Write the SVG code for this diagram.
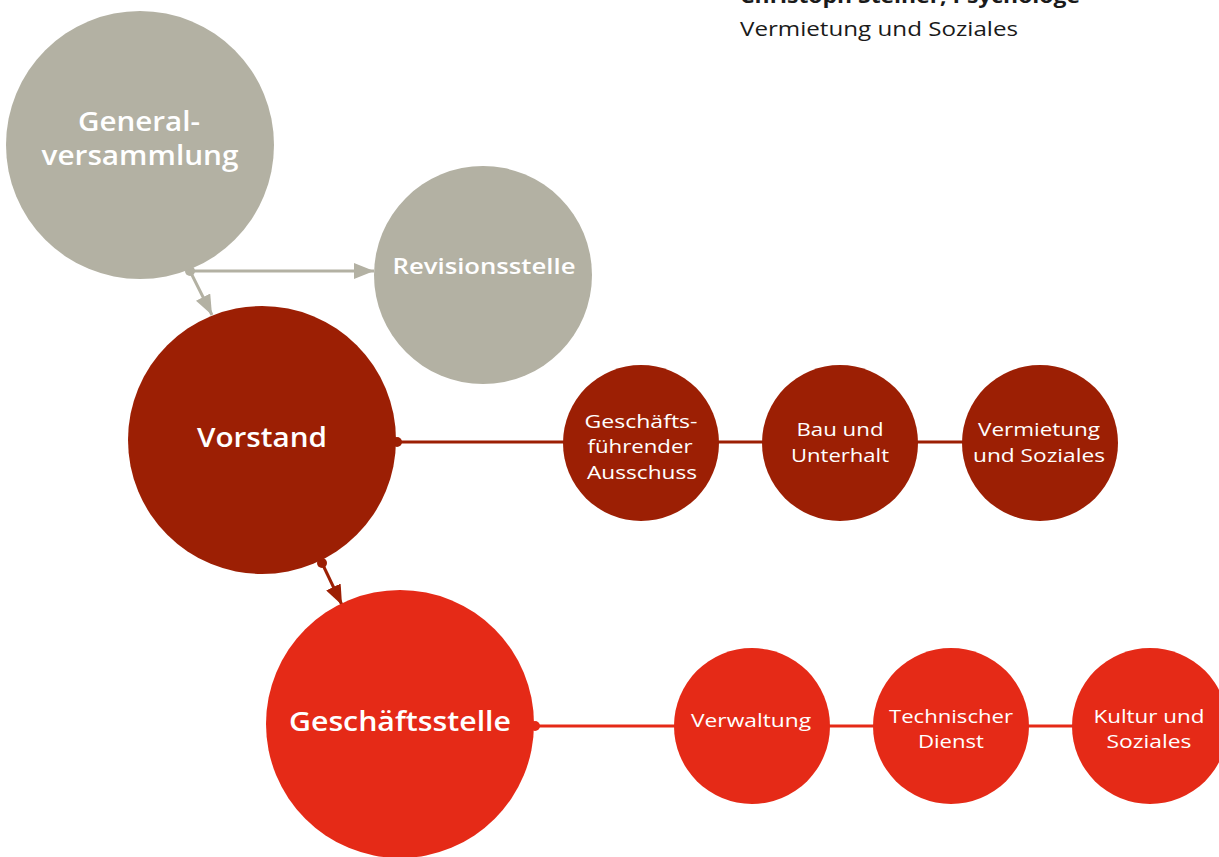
<svg xmlns="http://www.w3.org/2000/svg" width="1219" height="857" viewBox="0 0 1219 857">
  <style>
    .grey { fill: #b3b1a3; }
    .dark { fill: #9c1f04; }
    .bright { fill: #e52a17; }
    text { font-family: "Open Sans", "Liberation Sans", sans-serif; }
    .big { font-size: 27px; font-weight: 600; fill: #ffffff; text-anchor: middle; }
    .mid { font-size: 21px; font-weight: 600; fill: #ffffff; text-anchor: middle; }
    .small { font-size: 19px; font-weight: 400; fill: #ffffff; text-anchor: middle; }
    .head { font-size: 20px; fill: #1a1a1a; }
    .ln-grey { stroke: #b3b1a3; stroke-width: 3; fill: none; }
    .ln-dark { stroke: #9c1f04; stroke-width: 3; fill: none; }
    .ln-bright { stroke: #e52a17; stroke-width: 3; fill: none; }
  </style>
  <defs>
    <marker id="arrow-grey" viewBox="0 0 20 16" refX="20" refY="8" markerWidth="20" markerHeight="16" markerUnits="userSpaceOnUse" orient="auto">
      <path d="M0,0 L20,8 L0,16 Z" fill="#b3b1a3"/>
    </marker>
    <marker id="arrow-dark" viewBox="0 0 20 16" refX="20" refY="8" markerWidth="20" markerHeight="16" markerUnits="userSpaceOnUse" orient="auto">
      <path d="M0,0 L20,8 L0,16 Z" fill="#9c1f04"/>
    </marker>
  </defs>

  <!-- header caption, first line runs off the top edge -->
  <g id="caption">
    <text class="head" x="740" y="3" font-weight="700" textLength="340" lengthAdjust="spacingAndGlyphs">Christoph Steiner, Psychologe</text>
    <text class="head" x="740" y="36" textLength="278" lengthAdjust="spacingAndGlyphs">Vermietung und Soziales</text>
  </g>

  <!-- connectors -->
  <g id="connectors">
    <line class="ln-grey" x1="190" y1="271" x2="374" y2="271" marker-end="url(#arrow-grey)"/>
    <line class="ln-grey" x1="190" y1="271" x2="212" y2="315" marker-end="url(#arrow-grey)"/>
    <circle class="grey" cx="190" cy="271" r="5"/>

    <line class="ln-dark" x1="397" y1="442" x2="1000" y2="442"/>
    <line class="ln-dark" x1="322" y1="563" x2="342" y2="605" marker-end="url(#arrow-dark)"/>
    <circle class="dark" cx="397" cy="442" r="5"/>
    <circle class="dark" cx="322" cy="563" r="5"/>

    <line class="ln-bright" x1="535" y1="726" x2="1100" y2="726"/>
    <circle class="bright" cx="535" cy="726" r="5"/>
  </g>

  <g id="generalversammlung">
    <circle class="grey" cx="140" cy="145" r="134"/>
    <text class="big" x="139" y="131" textLength="122" lengthAdjust="spacingAndGlyphs">General-</text>
    <text class="big" x="140" y="165" textLength="197" lengthAdjust="spacingAndGlyphs">versammlung</text>
  </g>

  <g id="revisionsstelle">
    <circle class="grey" cx="483" cy="275" r="109"/>
    <text class="mid" x="484" y="274" textLength="183" lengthAdjust="spacingAndGlyphs">Revisionsstelle</text>
  </g>

  <g id="vorstand">
    <circle class="dark" cx="262" cy="440" r="134"/>
    <text class="big" x="262" y="447" textLength="130" lengthAdjust="spacingAndGlyphs">Vorstand</text>
  </g>

  <g id="gf-ausschuss">
    <circle class="dark" cx="641" cy="443" r="78"/>
    <text class="small" x="641" y="428" textLength="113" lengthAdjust="spacingAndGlyphs">Geschäfts-</text>
    <text class="small" x="640" y="453" textLength="105" lengthAdjust="spacingAndGlyphs">führender</text>
    <text class="small" x="642" y="479" textLength="110" lengthAdjust="spacingAndGlyphs">Ausschuss</text>
  </g>

  <g id="bau-unterhalt">
    <circle class="dark" cx="840" cy="443" r="78"/>
    <text class="small" x="840" y="436" textLength="87" lengthAdjust="spacingAndGlyphs">Bau und</text>
    <text class="small" x="840" y="462" textLength="98" lengthAdjust="spacingAndGlyphs">Unterhalt</text>
  </g>

  <g id="vermietung-soziales">
    <circle class="dark" cx="1040" cy="443" r="78"/>
    <text class="small" x="1039" y="436" textLength="122" lengthAdjust="spacingAndGlyphs">Vermietung</text>
    <text class="small" x="1039" y="462" textLength="132" lengthAdjust="spacingAndGlyphs">und Soziales</text>
  </g>

  <g id="geschaeftsstelle">
    <circle class="bright" cx="400" cy="724" r="134"/>
    <text class="big" x="400" y="731" textLength="222" lengthAdjust="spacingAndGlyphs">Geschäftsstelle</text>
  </g>

  <g id="verwaltung">
    <circle class="bright" cx="752" cy="726" r="78"/>
    <text class="small" x="751" y="727" textLength="120" lengthAdjust="spacingAndGlyphs">Verwaltung</text>
  </g>

  <g id="technischer-dienst">
    <circle class="bright" cx="951" cy="726" r="78"/>
    <text class="small" x="951" y="723" textLength="124" lengthAdjust="spacingAndGlyphs">Technischer</text>
    <text class="small" x="951" y="748" textLength="66" lengthAdjust="spacingAndGlyphs">Dienst</text>
  </g>

  <g id="kultur-soziales">
    <circle class="bright" cx="1150" cy="726" r="78"/>
    <text class="small" x="1149" y="723" textLength="111" lengthAdjust="spacingAndGlyphs">Kultur und</text>
    <text class="small" x="1149" y="748" textLength="85" lengthAdjust="spacingAndGlyphs">Soziales</text>
  </g>
</svg>
